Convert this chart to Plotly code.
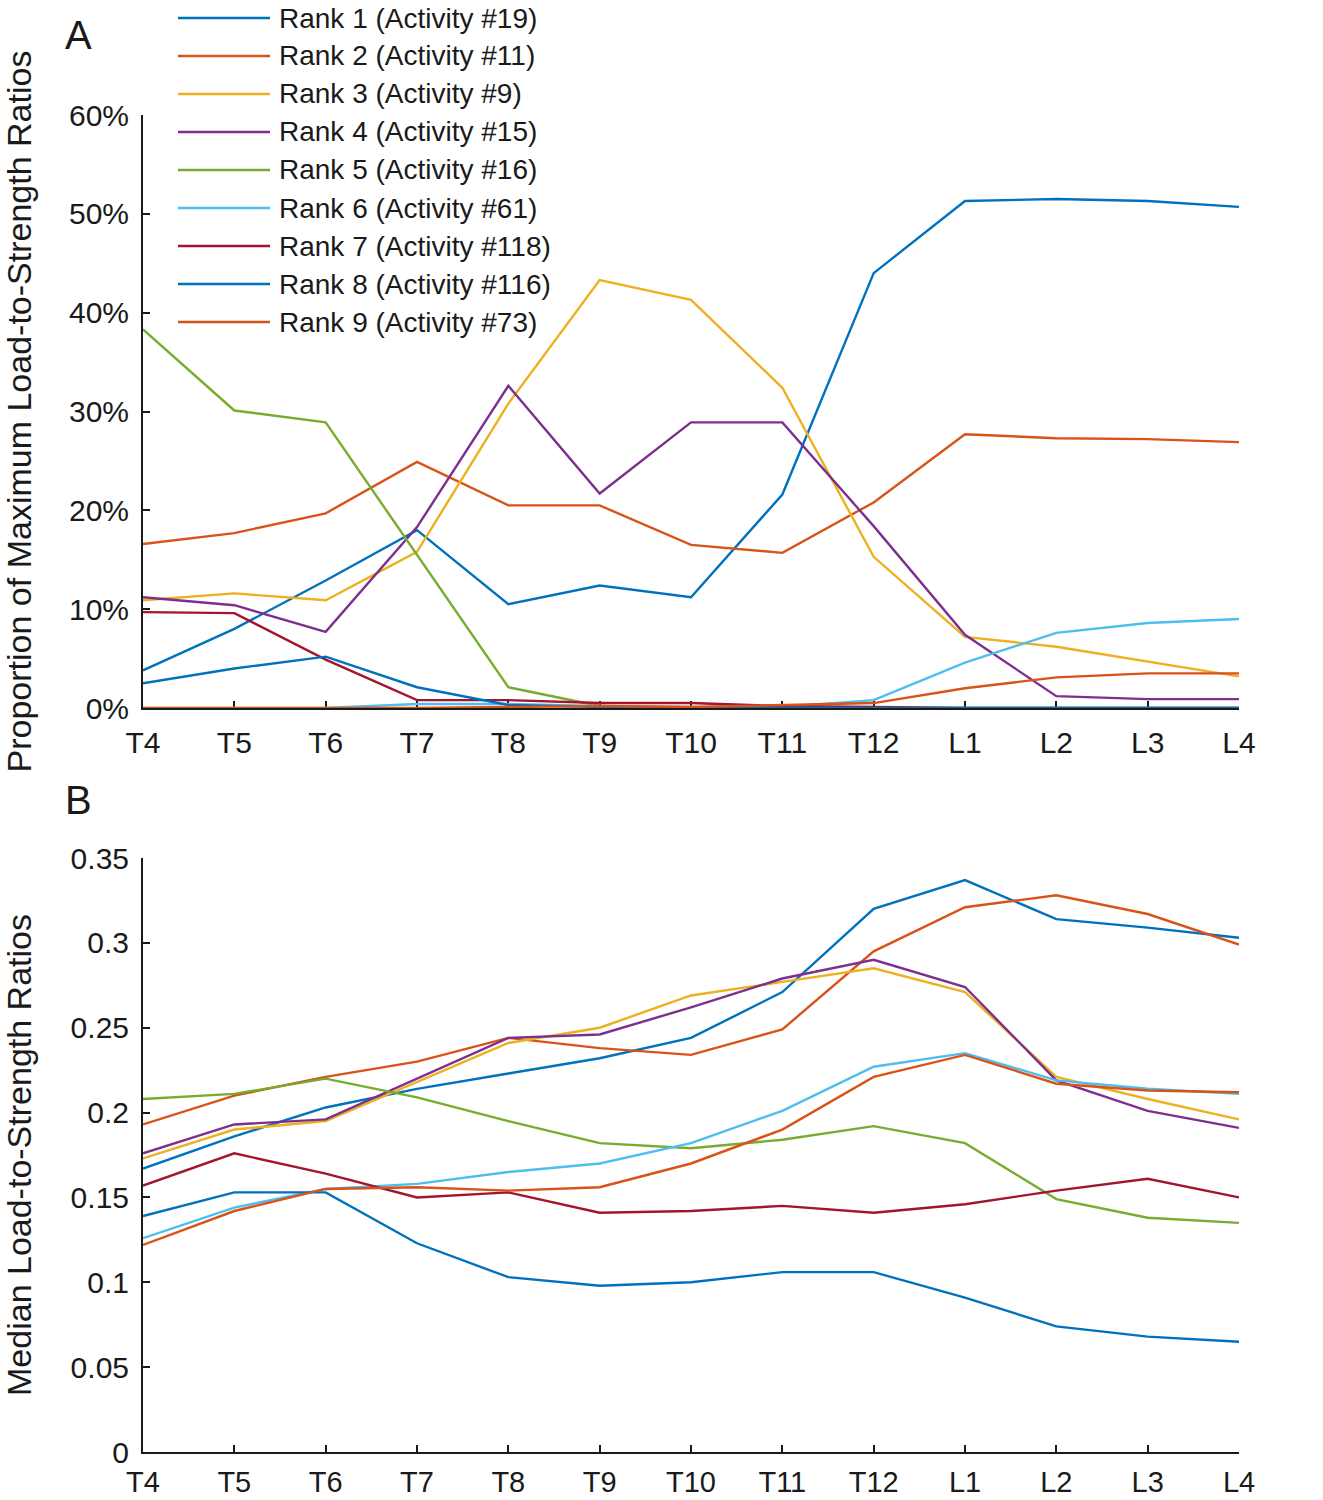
import plotly.graph_objects as go

# ---------------- data ----------------
levels = ["T4", "T5", "T6", "T7", "T8", "T9", "T10", "T11", "T12", "L1", "L2", "L3", "L4"]

names = [
    "Rank 1 (Activity #19)", "Rank 2 (Activity #11)", "Rank 3 (Activity #9)",
    "Rank 4 (Activity #15)", "Rank 5 (Activity #16)", "Rank 6 (Activity #61)",
    "Rank 7 (Activity #118)", "Rank 8 (Activity #116)", "Rank 9 (Activity #73)",
]
colors = ["#0072BD", "#D95319", "#EDB120", "#7E2F8E", "#77AC30",
          "#4DBEEE", "#A2142F", "#0072BD", "#D95319"]

# Panel A: proportion of maximum load-to-strength ratios (%)
a_rank1 = [3.8, 8.0, 12.9, 18.0, 10.5, 12.4, 11.2, 21.6, 44.0, 51.3, 51.5, 51.3, 50.7]
a_rank2 = [16.6, 17.7, 19.7, 24.9, 20.5, 20.5, 16.5, 15.7, 20.8, 27.7, 27.3, 27.2, 26.9]
a_rank3 = [10.9, 11.6, 10.9, 15.8, 30.8, 43.3, 41.3, 32.4, 15.3, 7.2, 6.2, 4.7, 3.2]
a_rank4 = [11.2, 10.4, 7.7, 18.3, 32.6, 21.7, 28.9, 28.9, 18.4, 7.4, 1.2, 0.9, 0.9]
a_rank5 = [38.3, 30.1, 28.9, 15.5, 2.1, 0.2, 0.0, 0.0, 0.0, 0.0, 0.0, 0.0, 0.0]
a_rank6 = [0.0, 0.0, 0.0, 0.4, 0.4, 0.2, 0.1, 0.1, 0.8, 4.6, 7.6, 8.6, 9.0]
a_rank7 = [9.7, 9.6, 4.9, 0.8, 0.8, 0.5, 0.5, 0.2, 0.1, 0.0, 0.0, 0.0, 0.0]
a_rank8 = [2.5, 4.0, 5.2, 2.1, 0.3, 0.1, 0.0, 0.0, 0.0, 0.0, 0.0, 0.0, 0.0]
a_rank9 = [0.0, 0.0, 0.0, 0.0, 0.1, 0.2, 0.1, 0.3, 0.5, 2.0, 3.1, 3.5, 3.5]

# Panel B: median load-to-strength ratios
b_rank1 = [0.167, 0.186, 0.203, 0.214, 0.223, 0.232, 0.244, 0.271, 0.320, 0.337, 0.314, 0.309, 0.303]
b_rank2 = [0.193, 0.210, 0.221, 0.230, 0.244, 0.238, 0.234, 0.249, 0.295, 0.321, 0.328, 0.317, 0.299]
b_rank3 = [0.173, 0.190, 0.195, 0.218, 0.241, 0.250, 0.269, 0.277, 0.285, 0.271, 0.221, 0.208, 0.196]
b_rank4 = [0.176, 0.193, 0.196, 0.220, 0.244, 0.246, 0.262, 0.279, 0.290, 0.274, 0.219, 0.201, 0.191]
b_rank5 = [0.208, 0.211, 0.220, 0.209, 0.195, 0.182, 0.179, 0.184, 0.192, 0.182, 0.149, 0.138, 0.135]
b_rank6 = [0.126, 0.144, 0.155, 0.158, 0.165, 0.170, 0.182, 0.201, 0.227, 0.235, 0.219, 0.214, 0.211]
b_rank7 = [0.157, 0.176, 0.164, 0.150, 0.153, 0.141, 0.142, 0.145, 0.141, 0.146, 0.154, 0.161, 0.150]
b_rank8 = [0.139, 0.153, 0.153, 0.123, 0.103, 0.098, 0.100, 0.106, 0.106, 0.091, 0.074, 0.068, 0.065]
b_rank9 = [0.122, 0.142, 0.155, 0.156, 0.154, 0.156, 0.170, 0.190, 0.221, 0.234, 0.217, 0.213, 0.212]

a_ticks = [0, 10, 20, 30, 40, 50, 60]
a_ticktext = ["0%", "10%", "20%", "30%", "40%", "50%", "60%"]
b_ticks = [0, 0.05, 0.1, 0.15, 0.2, 0.25, 0.3, 0.35]
b_ticktext = ["0", "0.05", "0.1", "0.15", "0.2", "0.25", "0.3", "0.35"]

series_a = [a_rank1, a_rank2, a_rank3, a_rank4, a_rank5, a_rank6, a_rank7, a_rank8, a_rank9]
series_b = [b_rank1, b_rank2, b_rank3, b_rank4, b_rank5, b_rank6, b_rank7, b_rank8, b_rank9]

# ---------------- layout helpers ----------------
W, H = 1323, 1500
FONT = "Liberation Sans, Arial, sans-serif"
TXT = "#1a1a1a"
LW = 2.4


def px(x):
    return x / W


def py(y):
    return 1 - y / H


fig = go.Figure()

for name, col, ya in zip(names, colors, series_a):
    fig.add_trace(go.Scatter(x=levels, y=ya, mode="lines", name=name,
                             line=dict(color=col, width=LW),
                             xaxis="x", yaxis="y", showlegend=False))
for name, col, yb in zip(names, colors, series_b):
    fig.add_trace(go.Scatter(x=levels, y=yb, mode="lines", name=name,
                             line=dict(color=col, width=LW),
                             xaxis="x2", yaxis="y2", showlegend=False))

common_x = dict(
    type="category", categoryorder="array", categoryarray=levels,
    range=[0, len(levels) - 1], showline=True, linecolor="#1a1a1a", linewidth=2,
    ticks="inside", ticklen=7, tickwidth=2, tickcolor="#1a1a1a",
    showgrid=False, zeroline=False, automargin=False, layer="below traces",
    tickfont=dict(family=FONT, size=30, color=TXT), ticklabelstandoff=7,
)
common_y = dict(
    showline=True, linecolor="#1a1a1a", linewidth=2,
    ticks="inside", ticklen=7, tickwidth=2, tickcolor="#1a1a1a",
    showgrid=False, zeroline=False, automargin=False, layer="below traces",
    tickfont=dict(family=FONT, size=30, color=TXT), ticklabelstandoff=6,
)

xdom = [px(143), px(1239)]

fig.update_layout(
    width=W, height=H,
    margin=dict(l=0, r=0, t=0, b=0),
    paper_bgcolor="white", plot_bgcolor="white",
    showlegend=False,
    font=dict(family=FONT, color=TXT),
    xaxis=dict(common_x, domain=xdom, anchor="y"),
    yaxis=dict(common_y, domain=[py(708), py(115)], anchor="x", range=[0, 60],
               tickmode="array", tickvals=a_ticks, ticktext=a_ticktext,
               title=dict(text="Proportion of Maximum Load-to-Strength Ratios",
                          font=dict(family=FONT, size=34, color=TXT), standoff=34)),
    xaxis2=dict(common_x, domain=xdom, anchor="y2",
                tickfont=dict(family=FONT, size=29, color=TXT), ticklabelstandoff=3),
    yaxis2=dict(common_y, domain=[py(1452), py(858)], anchor="x2", range=[0, 0.35],
                tickmode="array", tickvals=b_ticks, ticktext=b_ticktext,
                title=dict(text="Median Load-to-Strength Ratios",
                           font=dict(family=FONT, size=34, color=TXT), standoff=34)),
)

# panel letters
fig.add_annotation(text="A", x=px(78), y=py(35), xref="paper", yref="paper",
                   xanchor="center", yanchor="middle",
                   showarrow=False, font=dict(family=FONT, size=40, color=TXT))
fig.add_annotation(text="B", x=px(78), y=py(800), xref="paper", yref="paper",
                   xanchor="center", yanchor="middle",
                   showarrow=False, font=dict(family=FONT, size=40, color=TXT))

# legend (drawn as line samples + text)
row0, step = 18, 38.0
for i, (name, col) in enumerate(zip(names, colors)):
    yc = row0 + i * step
    fig.add_shape(type="line", xref="paper", yref="paper",
                  x0=px(178), x1=px(270), y0=py(yc), y1=py(yc),
                  line=dict(color=col, width=LW))
    fig.add_annotation(text=name, x=px(277), y=py(yc), xref="paper", yref="paper",
                       xanchor="left", yanchor="middle", showarrow=False,
                       font=dict(family=FONT, size=28, color=TXT))

fig.write_html("out.html",
               config={"displayModeBar": False},
               post_script="document.body.style.margin='0px';"
                           "document.body.style.overflow='hidden';")
